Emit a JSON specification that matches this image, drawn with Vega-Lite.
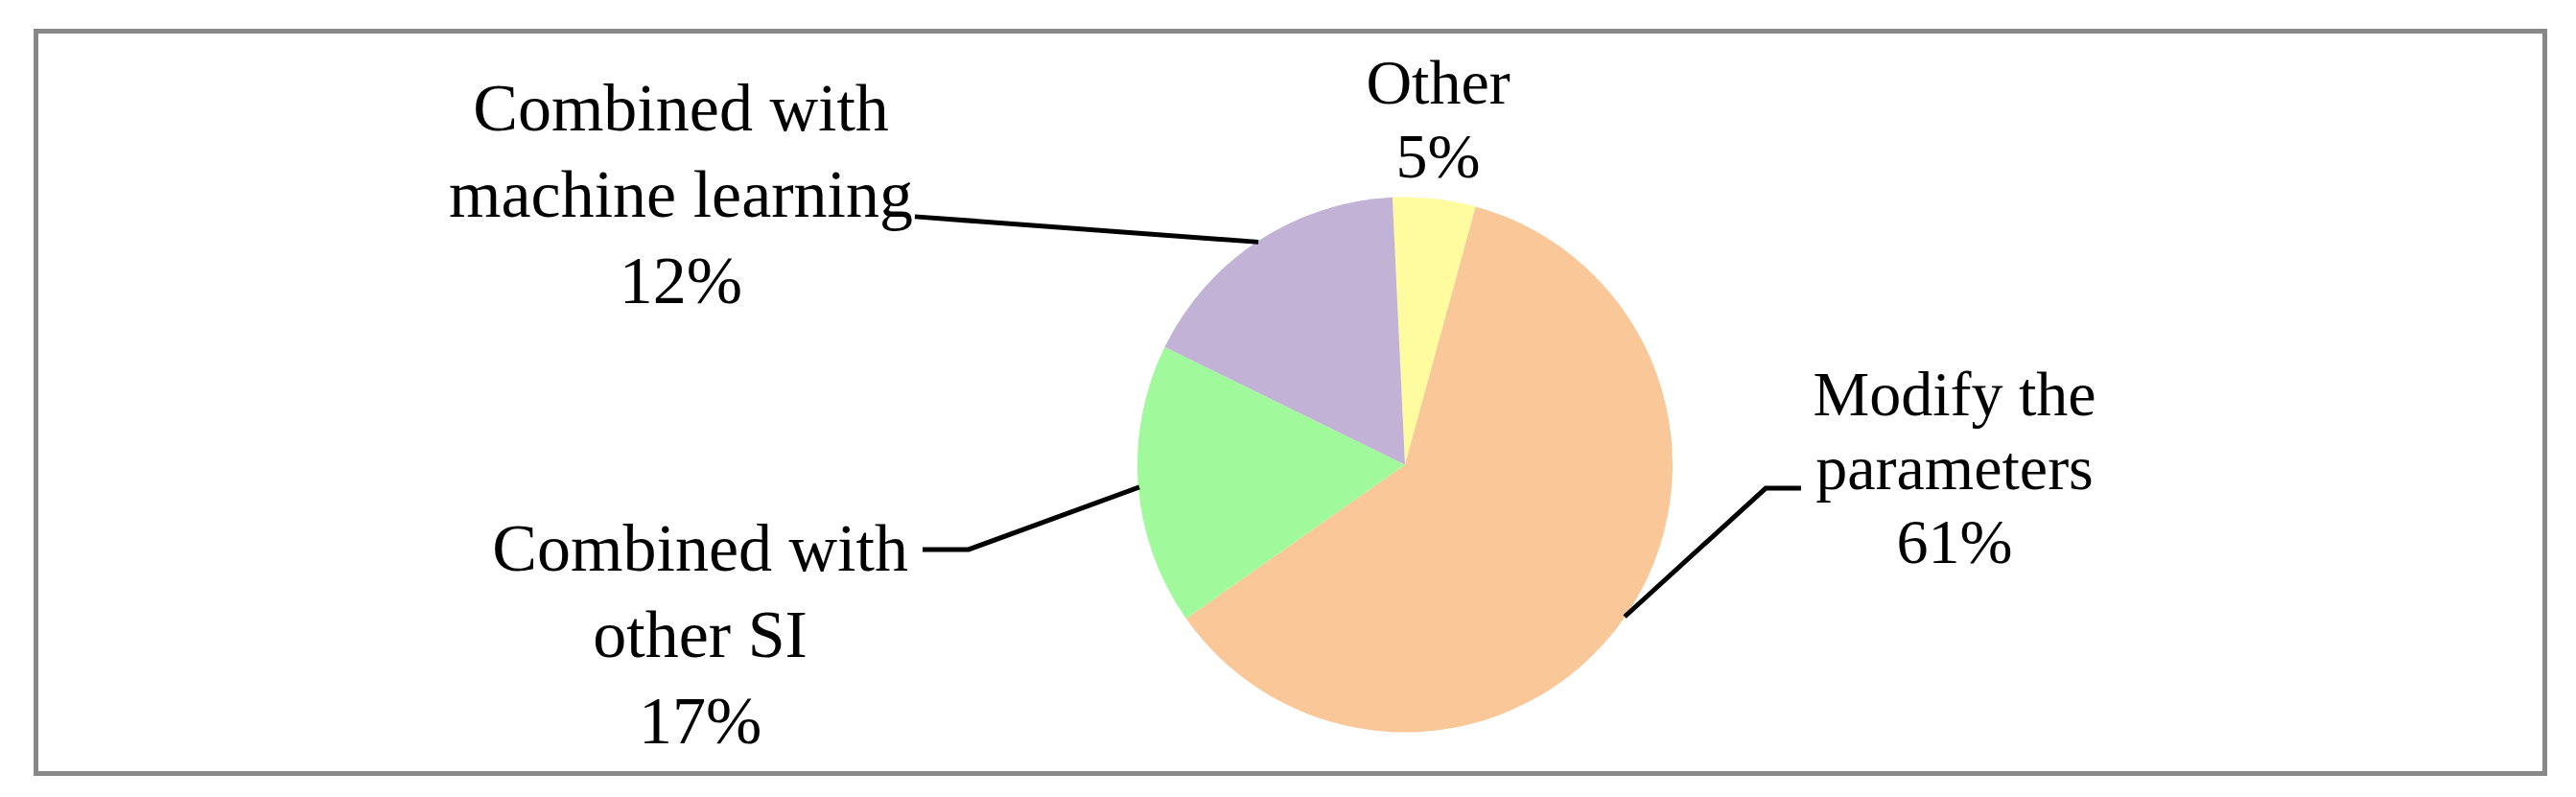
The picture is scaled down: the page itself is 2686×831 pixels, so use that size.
{
  "$schema": "https://vega.github.io/schema/vega-lite/v6.json",
  "width": 2686,
  "height": 831,
  "autosize": {"type": "fit", "contains": "padding"},
  "padding": {"left": 37.5, "top": 32.5, "right": 32.5, "bottom": 24.5},
  "background": "white",
  "config": {"view": {"stroke": "#888888", "strokeWidth": 5}},
  "datasets": {
    "slices": [
      {"category": "Other", "value": 5},
      {"category": "Modify the parameters", "value": 61},
      {"category": "Combined with other SI", "value": 17},
      {"category": "Combined with machine learning", "value": 17}
    ],
    "callouts": [
      {"category": "Other", "text": "Other\n5%", "lx": 0.124, "ly": 1.348},
      {"category": "Modify the parameters", "text": "Modify the\nparameters\n61%", "lx": 2.054, "ly": 0.185},
      {"category": "Combined with machine learning", "text": "Combined with\nmachine learning\n12%", "lx": -2.706, "ly": 1.249},
      {"category": "Combined with other SI", "text": "Combined with\nother SI\n17%", "lx": -2.634, "ly": -0.396}
    ],
    "leaders": [
      {"category": "Combined with machine learning", "seq": 1, "lx": -1.832, "ly": 0.927},
      {"category": "Combined with machine learning", "seq": 2, "lx": -0.548, "ly": 0.832},
      {"category": "Combined with other SI", "seq": 1, "lx": -1.803, "ly": -0.317},
      {"category": "Combined with other SI", "seq": 2, "lx": -1.631, "ly": -0.317},
      {"category": "Combined with other SI", "seq": 3, "lx": -0.993, "ly": -0.084},
      {"category": "Modify the parameters", "seq": 1, "lx": 0.821, "ly": -0.568},
      {"category": "Modify the parameters", "seq": 2, "lx": 1.348, "ly": -0.088},
      {"category": "Modify the parameters", "seq": 3, "lx": 1.480, "ly": -0.088}
    ]
  },
  "layer": [
    {
      "data": {"name": "slices"},
      "mark": {"type": "arc", "outerRadius": 279},
      "encoding": {
        "x": {"datum": 0, "type": "quantitative", "scale": {"domain": [-5.1165, 4.2599], "nice": false, "zero": false}, "axis": null},
        "y": {"datum": 0, "type": "quantitative", "scale": {"domain": [-1.1541, 1.6201], "nice": false, "zero": false}, "axis": null},
        "theta": {"field": "value", "type": "quantitative", "stack": true, "scale": {"range": [-0.0471, 6.2361]}},
        "order": {"field": "category", "type": "ordinal", "sort": "descending"},
        "color": {
          "field": "category",
          "type": "nominal",
          "scale": {
            "domain": ["Other", "Modify the parameters", "Combined with other SI", "Combined with machine learning"],
            "range": ["#FFFC9F", "#FAC898", "#A0F99B", "#C2B2D5"]
          },
          "legend": null
        }
      }
    },
    {
      "data": {"name": "leaders"},
      "mark": {"type": "line", "color": "black", "strokeWidth": 5, "strokeJoin": "miter"},
      "encoding": {
        "x": {"field": "lx", "type": "quantitative", "axis": null},
        "y": {"field": "ly", "type": "quantitative", "axis": null},
        "detail": {"field": "category"},
        "order": {"field": "seq", "type": "quantitative"}
      }
    },
    {
      "data": {"name": "callouts"},
      "transform": [{"filter": {"field": "category", "oneOf": ["Other", "Modify the parameters"]}}],
      "mark": {"type": "text", "font": "Liberation Serif", "fontSize": 66, "lineHeight": 77, "align": "center", "baseline": "alphabetic", "lineBreak": "\n", "color": "black"},
      "encoding": {
        "x": {"field": "lx", "type": "quantitative", "axis": null},
        "y": {"field": "ly", "type": "quantitative", "axis": null},
        "text": {"field": "text"}
      }
    },
    {
      "data": {"name": "callouts"},
      "transform": [{"filter": {"field": "category", "oneOf": ["Combined with machine learning", "Combined with other SI"]}}],
      "mark": {"type": "text", "font": "Liberation Serif", "fontSize": 70, "lineHeight": 90, "align": "center", "baseline": "alphabetic", "lineBreak": "\n", "color": "black"},
      "encoding": {
        "x": {"field": "lx", "type": "quantitative", "axis": null},
        "y": {"field": "ly", "type": "quantitative", "axis": null},
        "text": {"field": "text"}
      }
    }
  ]
}
